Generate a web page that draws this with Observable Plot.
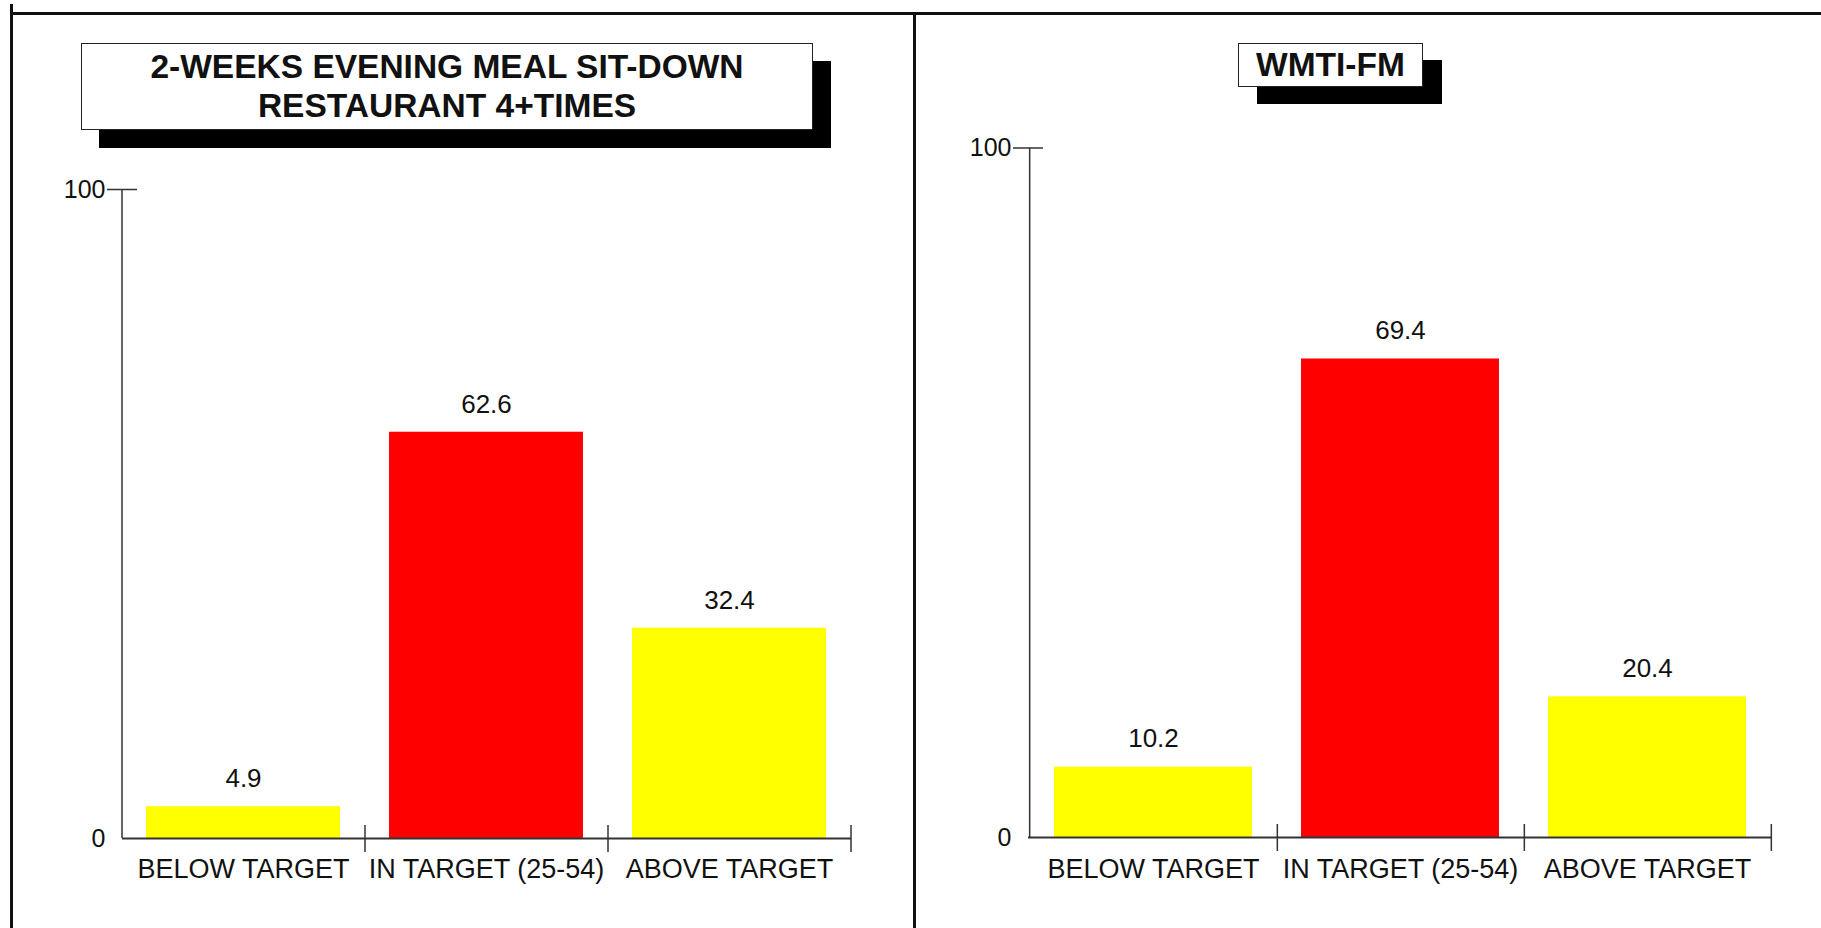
<!DOCTYPE html>
<html><head><meta charset="utf-8">
<script src="https://cdn.jsdelivr.net/npm/d3@7"></script>
<script src="https://cdn.jsdelivr.net/npm/@observablehq/plot@0.6"></script>
<style>
html,body{margin:0;padding:0;background:#fff;}
#root{position:relative;width:1821px;height:928px;overflow:hidden;font-family:"Liberation Sans",Arial,sans-serif;}
.line{position:absolute;background:#111;}
.title{position:absolute;background:#fff;border:1.5px solid #222;box-sizing:border-box;font-weight:bold;font-size:33.5px;text-align:center;color:#111;}
.panel{position:absolute;top:0;}
</style></head><body><div id="root"></div>
<script>
// ---- data ----
const categories = ["BELOW TARGET", "IN TARGET (25-54)", "ABOVE TARGET"];
const restaurantValues = [4.9, 62.6, 32.4];
const wmtiValues = [10.2, 69.4, 20.4];
const barColors = ["#ffff00", "#ff0000", "#ffff00"];
const yTickLabels = [0, 100];
const restaurantTitle = ["2-WEEKS EVENING MEAL SIT-DOWN", "RESTAURANT 4+TIMES"];
const wmtiTitle = ["WMTI-FM"];

const FONT = '"Liberation Sans", Arial, sans-serif';
const root = document.getElementById("root");

function panel({values, left, width, marginLeft, marginRight, marginTop, marginBottom, labelPad}) {
  const data = categories.map((c, i) => ({category: c, value: values[i]}));
  const step = (width - marginLeft - marginRight) / categories.length;
  const chart = Plot.plot({
    width, height: 928, marginLeft, marginRight, marginTop, marginBottom,
    style: {fontFamily: FONT, color: "#111", background: "transparent", overflow: "visible"},
    x: {type: "band", domain: categories, paddingInner: 0.2, paddingOuter: 0.1, axis: null},
    y: {domain: [0, 100], axis: null},
    color: {domain: categories, range: barColors},
    marks: [
      Plot.barY(data, {x: "category", y: "value", fill: "category"}),
      Plot.ruleY([0], {stroke: "#333", strokeWidth: 2}),
      Plot.ruleX([categories[0]], {x: d => d, y1: 0, y2: 100, dx: -step / 2, stroke: "#333", strokeWidth: 1.5}),
      Plot.axisY([100], {tickSize: 30, dx: 15, tickFormat: () => "", stroke: "#333", strokeWidth: 1.5, label: null}),
      Plot.axisY(yTickLabels, {tickSize: 0, tickPadding: 17, fontSize: 25, label: null}),
      Plot.axisX(categories, {tickSize: 27, dy: -13, dx: step / 2, tickFormat: () => "", stroke: "#333", strokeWidth: 1.5, label: null}),
      Plot.axisX(categories, {tickSize: 0, tickPadding: labelPad, fontSize: 27, label: null}),
      Plot.text(data, {x: "category", y: "value", text: d => d.value.toFixed(1), dy: -28, fontSize: 26, fill: "#111"})
    ]
  });
  chart.classList.add("panel");
  chart.style.left = left + "px";
  root.appendChild(chart);
}

panel({values: restaurantValues, left: 0, width: 914, marginLeft: 122, marginRight: 63, marginTop: 189, marginBottom: 90, labelPad: 20});
panel({values: wmtiValues, left: 914, width: 907, marginLeft: 114, marginRight: 50, marginTop: 147.5, marginBottom: 91, labelPad: 21});

function titleBox(lines, {left, top, width, height, shadowX, shadowY, lineHeight}) {
  const d = document.createElement("div");
  d.className = "title";
  Object.assign(d.style, {left: left + "px", top: top + "px", width: width + "px", height: height + "px",
    boxShadow: `${shadowX}px ${shadowY}px 0 #000`, lineHeight: lineHeight + "px",
    paddingTop: ((height - 3 - lineHeight * lines.length) / 2) + "px"});
  lines.forEach((t, i) => { if (i) d.appendChild(document.createElement("br")); d.appendChild(document.createTextNode(t)); });
  root.appendChild(d);
}
titleBox(restaurantTitle, {left: 81, top: 43, width: 732, height: 87, shadowX: 18, shadowY: 18, lineHeight: 39});
titleBox(wmtiTitle, {left: 1238, top: 43, width: 185, height: 44, shadowX: 19, shadowY: 17, lineHeight: 40});

function line(l, t, w, h) {
  const d = document.createElement("div");
  d.className = "line";
  Object.assign(d.style, {left: l + "px", top: t + "px", width: w + "px", height: h + "px"});
  root.appendChild(d);
}
line(11, 12, 1821 - 11, 3);   // top border
line(10, 4, 2.5, 924);        // left border
line(912.5, 13, 3, 915);      // middle divider
</script></body></html>
